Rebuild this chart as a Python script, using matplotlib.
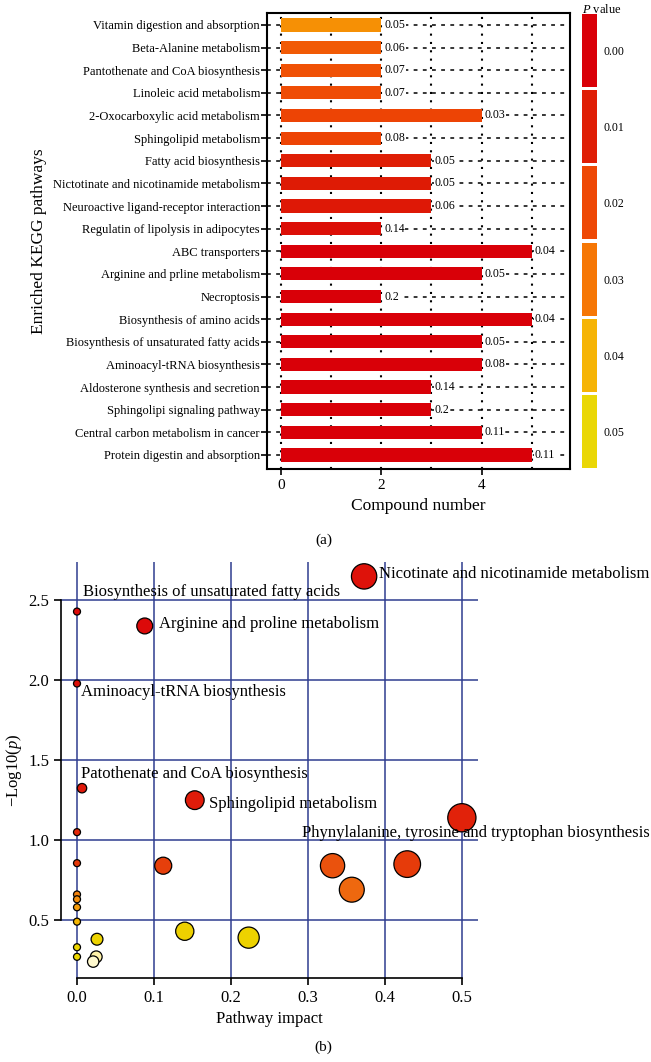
import numpy as np
import matplotlib
matplotlib.use('Agg')
import matplotlib.pyplot as plt
from matplotlib.colors import LinearSegmentedColormap

plt.rcParams['font.family'] = 'Liberation Serif'
plt.rcParams['mathtext.fontset'] = 'custom'
plt.rcParams['mathtext.rm'] = 'Liberation Serif'
plt.rcParams['mathtext.it'] = 'Liberation Serif:italic'

# (a) enriched KEGG pathways
pathways = ["Vitamin digestion and absorption", "Beta-Alanine metabolism",
            "Pantothenate and CoA biosynthesis", "Linoleic acid metabolism",
            "2-Oxocarboxylic acid metabolism", "Sphingolipid metabolism",
            "Fatty acid biosynthesis", "Nictotinate and nicotinamide metabolism",
            "Neuroactive ligand-receptor interaction", "Regulatin of lipolysis in adipocytes",
            "ABC transporters", "Arginine and prline metabolism", "Necroptosis",
            "Biosynthesis of amino acids", "Biosynthesis of unsaturated fatty acids",
            "Aminoacyl-tRNA biosynthesis", "Aldosterone synthesis and secretion",
            "Sphingolipi signaling pathway", "Central carbon metabolism in cancer",
            "Protein digestin and absorption"]
compounds = [2, 2, 2, 2, 4, 2, 3, 3, 3, 2, 5, 4, 2, 5, 4, 4, 3, 3, 4, 5]
p_labels = ["0.05", "0.06", "0.07", "0.07", "0.03", "0.08", "0.05", "0.05", "0.06", "0.14",
            "0.04", "0.05", "0.2", "0.04", "0.05", "0.08", "0.14", "0.2", "0.11", "0.11"]
bar_shade = [0.034, 0.024, 0.022, 0.021, 0.019, 0.019, 0.010, 0.009, 0.008, 0.005,
             0, 0, 0, 0, 0, 0, 0, 0, 0, 0]

p_levels = ["0.00", "0.01", "0.02", "0.03", "0.04", "0.05"]
level_colors = ['#D90008', '#DF1E05', '#EE4805', '#F67705', '#F6B405', '#EAD705']

# (b) pathway impact
impact = [0.373, 0.0, 0.088, 0.0, 0.0065, 0.153, 0.5, 0.0, 0.0, 0.112, 0.429, 0.332,
          0.357, 0.0, 0.0, 0.0, 0.0, 0.14, 0.223, 0.026, 0.0, 0.0, 0.025, 0.021]
neg_log_p = [2.65, 2.43, 2.34, 1.98, 1.325, 1.25, 1.14, 1.05, 0.856, 0.84, 0.85, 0.84,
             0.69, 0.66, 0.63, 0.58, 0.49, 0.43, 0.39, 0.38, 0.33, 0.27, 0.27, 0.24]
pt_shade = [0.03, 0.0, 0.0, 0.02, 0.05, 0.06, 0.08, 0.10, 0.15, 0.17, 0.16, 0.22,
            0.28, 0.35, 0.38, 0.42, 0.50, 0.60, 0.62, 0.64, 0.66, 0.68, 0.85, 0.95]
annot_names = ["Nicotinate and nicotinamide metabolism", "Biosynthesis of unsaturated fatty acids",
               "Arginine and proline metabolism", "Aminoacyl-tRNA biosynthesis",
               "Patothenate and CoA biosynthesis", "Sphingolipid metabolism",
               "Phynylalanine, tyrosine and tryptophan biosynthesis"]

fig = plt.figure(figsize=(6.51, 10.62), dpi=100)

# ---- panel (a)
cmap_p = LinearSegmentedColormap.from_list('pv', level_colors)
ax1 = fig.add_axes([0.410, 0.5584, 0.4654, 0.4294])
y = np.arange(len(pathways))
ax1.barh(y, compounds, height=0.58, color=cmap_p(np.array(bar_shade) / 0.05), zorder=2)
for yi, c, p in zip(y, compounds, p_labels):
    ax1.text(c + 0.06, yi, p, va='center', ha='left', fontsize=8.5, zorder=3,
             bbox=dict(facecolor='white', edgecolor='none', pad=0.3))
ax1.set_yticks(y)
ax1.set_yticklabels(pathways, fontsize=9)
ax1.set_xticks([0, 2, 4])
ax1.set_xticks([1, 3, 5], minor=True)
ax1.set_xlim(-0.279, 5.757)
ax1.set_ylim(19.62, -0.53)
ax1.set_axisbelow(True)
ax1.grid(True, axis='x', which='both', color='black', linestyle=(0, (1, 3)), lw=1.5)
ax1.grid(True, axis='y', color='black', linestyle=(0, (2.5, 3.5)), lw=1.1)
ax1.tick_params(axis='y', length=4, width=1.2, pad=1)
ax1.tick_params(axis='x', which='major', length=4, width=1.2, labelsize=11)
ax1.tick_params(axis='x', which='minor', length=0)
for s in ax1.spines.values():
    s.set_linewidth(1.5)
ax1.set_xlabel("Compound number", fontsize=12.5)
ax1.set_ylabel("Enriched KEGG pathways", fontsize=12.5)
ax1.yaxis.set_label_coords(-0.725, 0.5)

# legend blocks
axl = fig.add_axes([0.894, 0.5575, 0.023, 0.4312])
for i, col in enumerate(level_colors):
    axl.bar(0.5, 0.955, bottom=i + 0.0225, width=1, color=col)
axl.set_xlim(0, 1)
axl.set_ylim(6, 0)
axl.set_xticks([])
axl.yaxis.tick_right()
axl.set_yticks(np.arange(len(p_levels)) + 0.5)
axl.set_yticklabels(p_levels, fontsize=8.5)
axl.tick_params(axis='y', length=0, pad=5)
for s in axl.spines.values():
    s.set_visible(False)
fig.text(0.925, 0.9975, r'$P$ value', ha='center', va='top', fontsize=9)

fig.text(0.497, 0.4915, "(a)", ha='center', va='center', fontsize=11)

# ---- panel (b)
heat = LinearSegmentedColormap.from_list('heat', [
    (0.0, '#DC0A0A'), (0.15, '#E5380A'), (0.3, '#F07010'), (0.45, '#F8A808'),
    (0.6, '#EDD000'), (0.7, '#EDD800'), (0.85, '#FFF2A8'), (1.0, '#FFFCE0')])
ax2 = fig.add_axes([0.0937, 0.0791, 0.6406, 0.3917])
diam_px = 7 + 30 * np.sqrt(np.array(impact))
sizes = (diam_px * 0.72) ** 2
ax2.scatter(impact, neg_log_p, s=sizes, c=heat(np.array(pt_shade)),
            edgecolors='black', linewidths=0.9, zorder=3)
ax2.set_xlim(-0.0208, 0.521)
ax2.set_ylim(0.1375, 2.74)
ax2.set_xticks(np.arange(0, 0.51, 0.1))
ax2.set_yticks(np.arange(0.5, 2.51, 0.5))
ax2.grid(True, color='#2F3D8F', lw=1.1)
ax2.set_axisbelow(True)
ax2.spines['top'].set_visible(False)
ax2.spines['right'].set_visible(False)
ax2.spines['left'].set_bounds(0.5, 2.5)
ax2.spines['bottom'].set_bounds(0, 0.5)
for s in ('left', 'bottom'):
    ax2.spines[s].set_linewidth(1.2)
ax2.tick_params(length=5, width=1.2, labelsize=12)
ax2.set_xlabel("Pathway impact", fontsize=12)
ax2.set_ylabel(r'$-$Log10($p$)', fontsize=12)
ax2.yaxis.set_label_coords(-0.088, 0.5)

offsets = [(11, 2), (4, 14), (10, 1.5), (3, -6), (-0.7, 10), (10, -3), (-115, -11)]
for name, idx, off in zip(annot_names, [0, 1, 2, 3, 4, 5, 6], offsets):
    ax2.annotate(name, (impact[idx], neg_log_p[idx]), xytext=off, textcoords='offset points',
                 ha='left', va='center', fontsize=12, zorder=4)

fig.text(0.497, 0.0135, "(b)", ha='center', va='center', fontsize=11)

fig.savefig('out.png', dpi=100)
